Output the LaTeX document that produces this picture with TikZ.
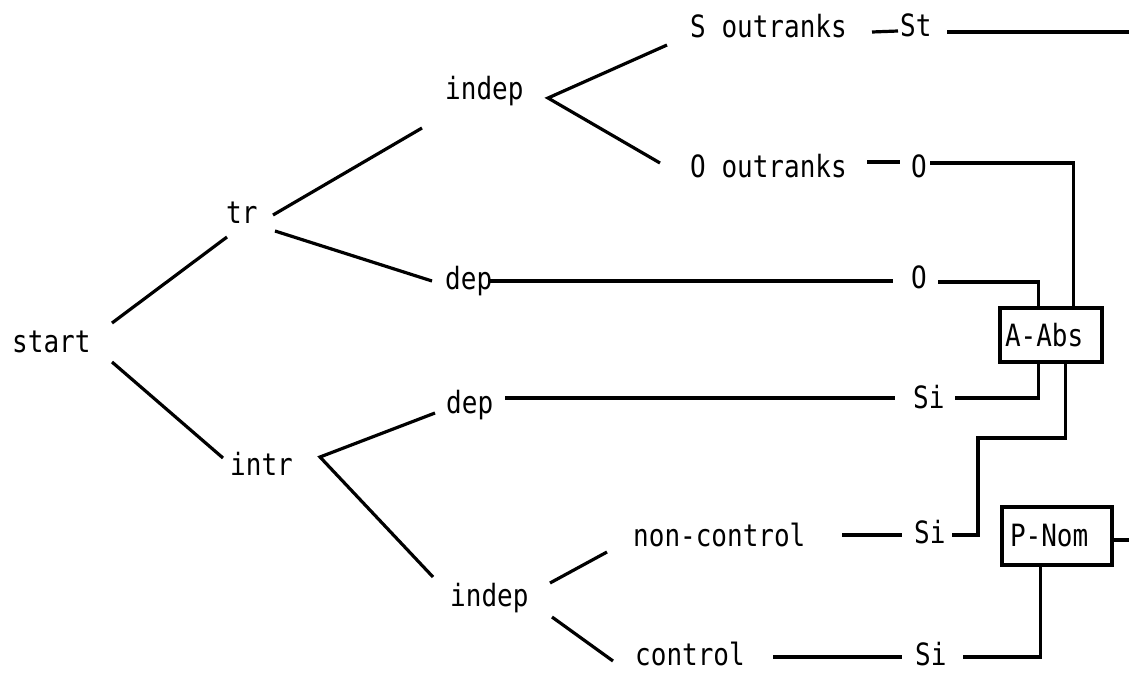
\documentclass[tikz,border=0pt]{standalone}
\usepackage{fontspec}
\usepackage{graphicx}
\newfontfamily\tw{DejaVu Sans Mono}
\newcommand\tallt[1]{\scalebox{1}[1.18]{#1}}
\usetikzlibrary{calc}
\tikzset{
  lbl/.style={font=\tw\fontsize{26}{30}\selectfont, inner sep=0pt, anchor=base west},
  boxn/.style={draw, line width=3.2pt, font=\tw\fontsize{26}{30}\selectfont, inner ysep=0pt, align=left},
  conn/.style={line width=3.2pt, line join=miter}
}
\begin{document}
\begin{tikzpicture}[x=1pt,y=-1pt]
\useasboundingbox (0,0) rectangle (1129,672);
% labels
\node[lbl] (start) at (12,352) {\tallt{start}};
\node[lbl] (tr) at (226,223) {\tallt{tr}};
\node[lbl] (intr) at (230,475) {\tallt{intr}};
\node[lbl] (indepA) at (445,99) {\tallt{indep}};
\node[lbl] (Sout) at (690,37) {\tallt{S outranks}};
\node[lbl] (Oout) at (690,177) {\tallt{O outranks}};
\node[lbl] (St) at (900,36) {\tallt{St}};
\node[lbl] (Oa) at (911,177) {\tallt{O}};
\node[lbl] (depA) at (445,289) {\tallt{dep}};
\node[lbl] (Ob) at (911,288) {\tallt{O}};
\node[lbl] (depB) at (446,413) {\tallt{dep}};
\node[lbl] (Sib) at (913,408) {\tallt{Si}};
\node[lbl] (nonc) at (633,546) {\tallt{non-control}};
\node[lbl] (Sic) at (914,543) {\tallt{Si}};
\node[lbl] (indepB) at (450,606) {\tallt{indep}};
\node[lbl] (control) at (635,665) {\tallt{control}};
\node[lbl] (Sid) at (915,665) {\tallt{Si}};
\node[boxn, text width=92pt, inner xsep=5pt, minimum height=54pt] (AAbs) at (1051,335) {\tallt{A-Abs}};
\node[boxn, text width=94pt, inner xsep=8pt, minimum height=58pt] (PNom) at (1057,536) {\tallt{P-Nom}};
\coordinate (Rtop) at (1129,32);
\coordinate (Rmid) at (1129,540);
% tree branches
\draw[conn] ($(start.base west)+(100,-29)$) -- ($(tr.base west)+(1,14)$);
\draw[conn] ($(start.base west)+(100,10)$) -- ($(intr.base west)+(-7,-17)$);
\draw[conn] ($(tr.base west)+(47,-8)$) -- ($(indepA.base west)+(-23,29)$);
\draw[conn] ($(tr.base west)+(49,8)$) -- ($(depA.base west)+(-13,-8)$);
\draw[conn] ($(Sout.base west)+(-23,8)$) -- ($(indepA.base west)+(103,-1)$) -- ($(Oout.base west)+(-30,-14)$);
\draw[conn] ($(depB.base west)+(-11,0)$) -- ($(intr.base west)+(90,-18)$) -- ($(indepB.base west)+(-17,-29)$);
\draw[conn] ($(indepB.base west)+(100,-23)$) -- ($(nonc.base west)+(-26,6)$);
\draw[conn] ($(indepB.base west)+(102,11)$) -- ($(control.base west)+(-22,-4)$);
% horizontal connectors
\draw[conn] ($(Sout.base west)+(182,-5)$) -- ($(St.base west)+(-2,-5)$);
\draw[conn] ($(St.base west)+(47,-4)$) -- (Rtop);
\draw[conn] ($(Oout.base west)+(177,-15)$) -- ($(Oa.base west)+(-11,-15)$);
\draw[conn] ($(Oa.base west)+(19,-14)$) -| ($(AAbs.north west)+(75,0)$);
\draw[conn] ($(depA.base west)+(43,-8)$) -- ($(Ob.base west)+(-18,-7)$);
\draw[conn] ($(Ob.base west)+(27,-6)$) -| ($(AAbs.north west)+(40,0)$);
\draw[conn] ($(depB.base west)+(59,-15)$) -- ($(Sib.base west)+(-18,-10)$);
\draw[conn] ($(Sib.base west)+(42,-10)$) -| ($(AAbs.south west)+(40,0)$);
\draw[conn] ($(nonc.base west)+(209,-11)$) -- ($(Sic.base west)+(-12,-8)$);
\draw[conn] ($(Sic.base west)+(38,-8)$) -- ++(26,0) -- ++(0,-97) -| ($(AAbs.south west)+(67,0)$);
\draw[conn] ($(control.base west)+(138,-8)$) -- ($(Sid.base west)+(-13,-8)$);
\draw[conn] ($(Sid.base west)+(48,-8)$) -| ($(PNom.south west)+(40,0)$);
\draw[conn] ($(PNom.east)+(0,4)$) -- (Rmid);
\end{tikzpicture}
\end{document}
